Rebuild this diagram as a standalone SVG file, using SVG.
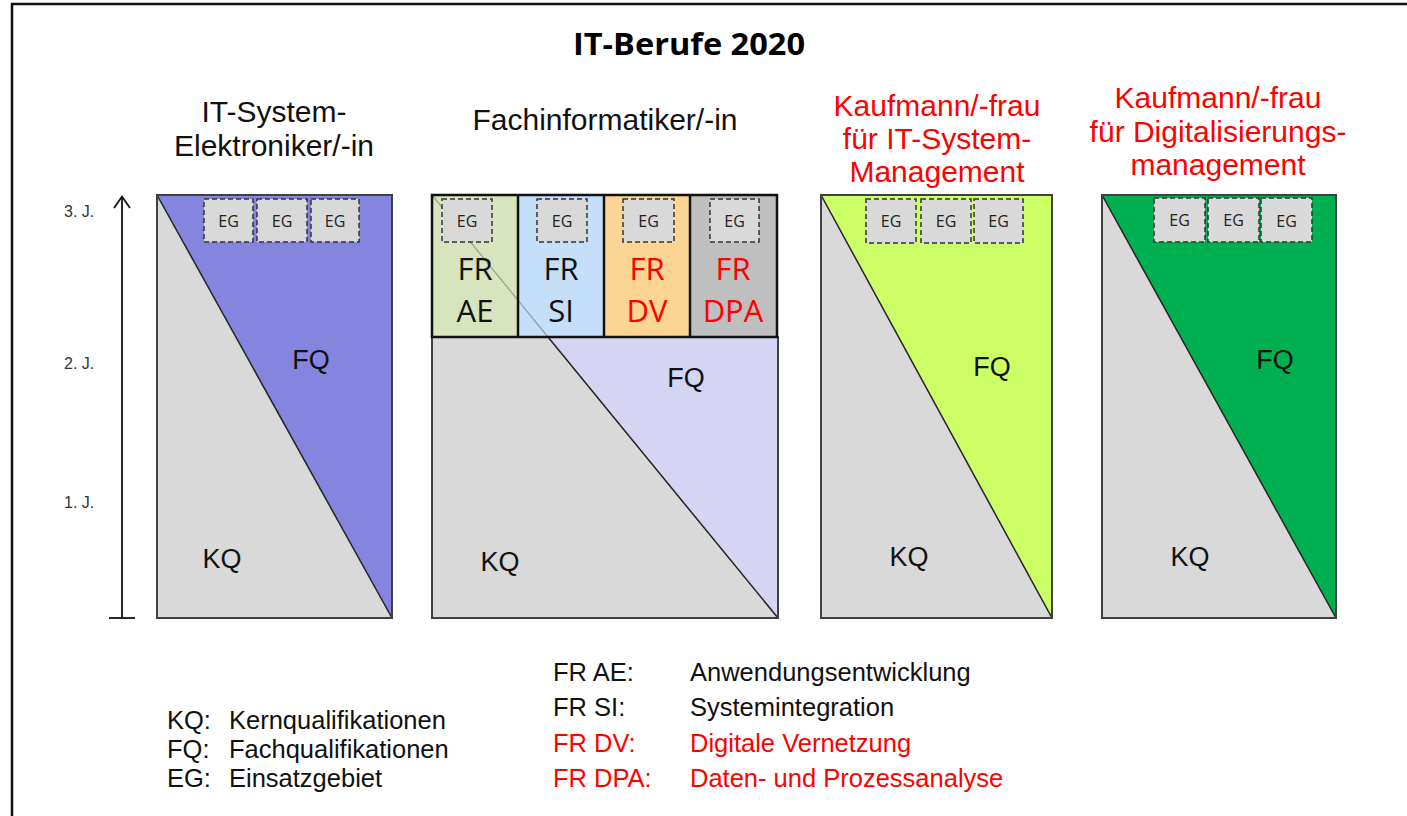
<svg xmlns="http://www.w3.org/2000/svg" width="1407" height="816" viewBox="0 0 1407 816">
<defs>
<style>
.sans{font-family:"Liberation Sans",Arial,sans-serif;}
.cal{font-family:"Open Sans","Liberation Sans",sans-serif;}
.hdr{font-family:"Liberation Sans",Arial,sans-serif;font-size:30px;text-anchor:middle;}
.red{fill:#FF0000;}
.blk{fill:#111111;}
.lbl{font-family:"Liberation Sans",Arial,sans-serif;font-size:27px;fill:#111;text-anchor:middle;}
.eg{fill:#D9D9D9;stroke:#333;stroke-width:1.5;stroke-dasharray:5 3;}
.egt{font-family:"Open Sans","Liberation Sans",sans-serif;font-size:16px;fill:#222;text-anchor:middle;}
.outline{fill:none;stroke:#404040;stroke-width:2;}
.grey{fill:#D9D9D9;}
.diag{stroke:#222;stroke-width:1.5;fill:none;}
.fr{font-family:"Open Sans","Liberation Sans",sans-serif;font-size:31px;text-anchor:middle;}
.leg{font-family:"Liberation Sans",Arial,sans-serif;font-size:25.5px;}
.yr{font-family:"Liberation Sans",Arial,sans-serif;font-size:16px;fill:#333;}
</style>
</defs>
<rect x="0" y="0" width="1407" height="816" fill="#FFFFFF"/>
<g id="frame">
<path d="M12,816 L12,4 L1407,4" fill="none" stroke="#111" stroke-width="2.5"/>
</g>
<g id="title">
<text x="689" y="55" class="cal" font-size="31" font-weight="bold" text-anchor="middle" fill="#000" textLength="232" lengthAdjust="spacingAndGlyphs">IT-Berufe 2020</text>
</g>

<g id="connectors">
<line x1="122" y1="618" x2="122" y2="197" stroke="#111" stroke-width="1.8"/>
<polyline points="114,208 122,196.5 130,208" fill="none" stroke="#111" stroke-width="1.8"/>
<line x1="109" y1="618" x2="135" y2="618" stroke="#111" stroke-width="1.8"/>
</g>
<g id="axis-labels">
<text x="64" y="217" class="yr">3. J.</text>
<text x="64" y="369" class="yr">2. J.</text>
<text x="64" y="508" class="yr">1. J.</text>
</g>

<g id="itse">
<text x="274" y="122" class="hdr blk">IT-System-</text>
<text x="274" y="156" class="hdr blk">Elektroniker/-in</text>
<polygon points="157,195 392,618 157,618" class="grey"/>
<polygon points="157,195 392,195 392,618" fill="#8585E0"/>
<line x1="157" y1="195" x2="392" y2="618" class="diag"/>
<rect x="157" y="195" width="235" height="423" class="outline"/>
<rect x="204" y="199" width="49" height="43" class="eg"/>
<rect x="257" y="199" width="50" height="43" class="eg"/>
<rect x="311" y="199" width="48" height="43" class="eg"/>
<text x="228.5" y="227" class="egt">EG</text>
<text x="282" y="227" class="egt">EG</text>
<text x="335" y="227" class="egt">EG</text>
<text x="311" y="369" class="lbl">FQ</text>
<text x="222" y="568" class="lbl">KQ</text>
</g>

<g id="fi">
<text x="605" y="130" class="hdr blk">Fachinformatiker/-in</text>
<polygon points="432,337 548,337 778,618 432,618" class="grey"/>
<polygon points="548,337 778,337 778,618" fill="#D5D5F3"/>
<line x1="548" y1="337" x2="778" y2="618" class="diag"/>
<rect x="432" y="337" width="346" height="281" class="outline"/>
<rect x="432" y="195" width="86" height="142" fill="#D7E4BD"/>
<rect x="518" y="195" width="86" height="142" fill="#C6DFF8"/>
<rect x="604" y="195" width="86" height="142" fill="#FCD593"/>
<rect x="690" y="195" width="87" height="142" fill="#BFBFBF"/>
<line x1="432" y1="195" x2="548" y2="337" stroke="#555" stroke-width="1.2" opacity="0.45"/>
<g fill="none" stroke="#111" stroke-width="2.5">
<rect x="432" y="195" width="345" height="142"/>
<line x1="518" y1="195" x2="518" y2="337"/>
<line x1="604" y1="195" x2="604" y2="337"/>
<line x1="690" y1="195" x2="690" y2="337"/>
</g>
<rect x="442" y="199" width="50" height="43" class="eg"/>
<rect x="537" y="199" width="50" height="43" class="eg"/>
<rect x="623" y="199" width="51" height="43" class="eg"/>
<rect x="710" y="199" width="49" height="43" class="eg"/>
<text x="467" y="227" class="egt">EG</text>
<text x="562" y="227" class="egt">EG</text>
<text x="648.5" y="227" class="egt">EG</text>
<text x="734.5" y="227" class="egt">EG</text>
<text x="475" y="280" class="fr blk">FR</text>
<text x="475" y="322" class="fr blk">AE</text>
<text x="561" y="280" class="fr blk">FR</text>
<text x="561" y="322" class="fr blk">SI</text>
<text x="647" y="280" class="fr red">FR</text>
<text x="647" y="322" class="fr red">DV</text>
<text x="733" y="280" class="fr red">FR</text>
<text x="733" y="322" class="fr red">DPA</text>
<text x="686" y="387" class="lbl">FQ</text>
<text x="500" y="571" class="lbl">KQ</text>
</g>

<g id="kitsm">
<text x="937" y="116" class="hdr red">Kaufmann/-frau</text>
<text x="937" y="149" class="hdr red">für IT-System-</text>
<text x="937" y="182" class="hdr red">Management</text>
<polygon points="821,195 1052,618 821,618" class="grey"/>
<polygon points="821,195 1052,195 1052,618" fill="#CCFF66"/>
<line x1="821" y1="195" x2="1052" y2="618" class="diag"/>
<rect x="821" y="195" width="231" height="423" class="outline"/>
<rect x="866" y="199" width="50" height="44" class="eg"/>
<rect x="921" y="199" width="50" height="44" class="eg"/>
<rect x="974" y="199" width="49" height="44" class="eg"/>
<text x="891" y="227" class="egt">EG</text>
<text x="946" y="227" class="egt">EG</text>
<text x="998.5" y="227" class="egt">EG</text>
<text x="992" y="376" class="lbl">FQ</text>
<text x="909" y="566" class="lbl">KQ</text>
</g>

<g id="kdm">
<text x="1218" y="108" class="hdr red">Kaufmann/-frau</text>
<text x="1218" y="142" class="hdr red">für Digitalisierungs-</text>
<text x="1218" y="175" class="hdr red">management</text>
<polygon points="1102,195 1336,618 1102,618" class="grey"/>
<polygon points="1102,195 1336,195 1336,618" fill="#00B050"/>
<line x1="1102" y1="195" x2="1336" y2="618" class="diag"/>
<rect x="1102" y="195" width="234" height="423" class="outline"/>
<rect x="1154" y="198" width="51" height="44" class="eg"/>
<rect x="1208" y="198" width="51" height="44" class="eg"/>
<rect x="1261" y="198" width="51" height="44" class="eg"/>
<text x="1179.5" y="226" class="egt">EG</text>
<text x="1233.5" y="226" class="egt">EG</text>
<text x="1286.5" y="227" class="egt">EG</text>
<text x="1275" y="369" class="lbl">FQ</text>
<text x="1190" y="566" class="lbl">KQ</text>
</g>

<g id="legend-left" class="leg" fill="#111">
<text x="167" y="729">KQ:</text>
<text x="229" y="729">Kernqualifikationen</text>
<text x="167" y="758">FQ:</text>
<text x="229" y="758">Fachqualifikationen</text>
<text x="167" y="787">EG:</text>
<text x="229" y="787">Einsatzgebiet</text>
</g>

<g id="legend-fr" class="leg">
<text x="553" y="681" fill="#111">FR AE:</text>
<text x="690" y="681" fill="#111">Anwendungsentwicklung</text>
<text x="553" y="716" fill="#111">FR SI:</text>
<text x="690" y="716" fill="#111">Systemintegration</text>
<text x="553" y="752" fill="#FF0000">FR DV:</text>
<text x="690" y="752" fill="#FF0000">Digitale Vernetzung</text>
<text x="553" y="787" fill="#FF0000">FR DPA:</text>
<text x="690" y="787" fill="#FF0000">Daten- und Prozessanalyse</text>
</g>
</svg>
